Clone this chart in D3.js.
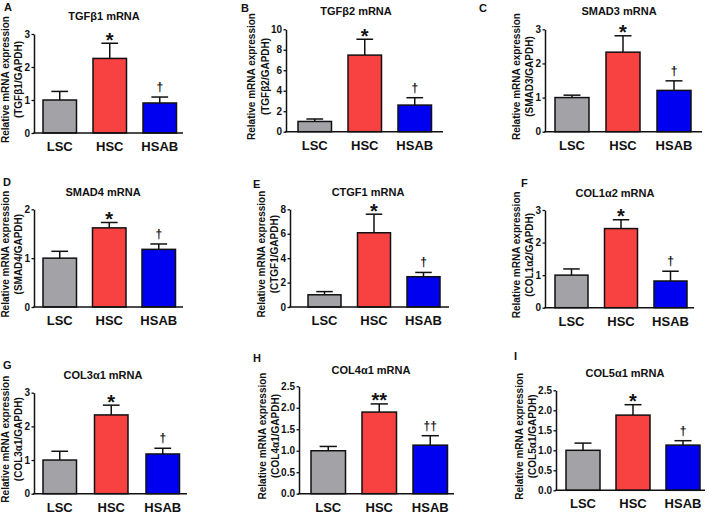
<!DOCTYPE html>
<html><head><meta charset="utf-8">
<script src="https://cdn.jsdelivr.net/npm/d3@7"></script>
<style>
html,body{margin:0;padding:0;background:#fff;}
svg{display:block;font-family:"Liberation Sans",Arial,sans-serif;font-weight:bold;}
svg text{font-family:"Liberation Sans",Arial,sans-serif;font-weight:bold;fill:#111;}
</style></head>
<body>
<svg id="c" width="709" height="514"></svg>
<script>
// ---------- data ----------
const categories = ["LSC", "HSC", "HSAB"];
const panelLetters = ["A", "B", "C", "D", "E", "F", "G", "H", "I"];
const titles = ["TGFβ1 mRNA", "TGFβ2 mRNA", "SMAD3 mRNA", "SMAD4 mRNA", "CTGF1 mRNA",
  "COL1α2 mRNA", "COL3α1 mRNA", "COL4α1 mRNA", "COL5α1 mRNA"];
const yLabelLine1 = "Relative mRNA expression";
const yLabelLine2 = ["(TGFβ1/GAPDH)", "(TGFβ2/GAPDH)", "(SMAD3/GAPDH)", "(SMAD4/GAPDH)",
  "(CTGF1/GAPDH)", "(COL1α2/GAPDH)", "(COL3α1/GAPDH)", "(COL4α1/GAPDH)", "(COL5α1/GAPDH)"];
const yTickLabels = [
  ["0", "1", "2", "3"],
  ["0", "2", "4", "6", "8", "10"],
  ["0", "1", "2", "3"],
  ["0", "1", "2"],
  ["0", "2", "4", "6", "8"],
  ["0", "1", "2", "3"],
  ["0", "1", "2", "3"],
  ["0.0", "0.5", "1.0", "1.5", "2.0", "2.5"],
  ["0.0", "0.5", "1.0", "1.5", "2.0", "2.5"]
];
const means = [
  [1.00, 2.26, 0.91],
  [1.00, 7.48, 2.60],
  [1.00, 2.33, 1.21],
  [1.00, 1.62, 1.18],
  [1.00, 6.08, 2.48],
  [1.00, 2.43, 0.82],
  [1.00, 2.34, 1.18],
  [1.00, 1.90, 1.13],
  [1.00, 1.88, 1.13]
];
const sems = [
  [0.26, 0.46, 0.18],
  [0.24, 1.55, 0.72],
  [0.07, 0.48, 0.28],
  [0.14, 0.11, 0.11],
  [0.26, 1.52, 0.35],
  [0.19, 0.27, 0.30],
  [0.26, 0.29, 0.17],
  [0.10, 0.19, 0.22],
  [0.18, 0.26, 0.11]
];
const hscMarks = ["*", "*", "*", "*", "*", "*", "*", "**", "*"];
const hsabMarks = ["†", "†", "†", "†", "†", "†", "†", "††", "†"];
const barColors = ["#a3a3a7", "#f84242", "#0000f0"];

// ---------- layout (positions only) ----------
const layout = [
  {x:34,  top:34,    bottom:133,   end:183, bar0:43,  step:50,   bw:33.5, tx:104, ty:20,  lx:4,   ly:11},
  {x:286, top:29.3,  bottom:131.7, end:443, bar0:298, step:50,   bw:33.5, tx:356, ty:15,  lx:241, ly:12},
  {x:545, top:29.3,  bottom:131.7, end:702, bar0:555, step:51,   bw:34,   tx:619, ty:15,  lx:479, ly:12},
  {x:34,  top:209.3, bottom:307,   end:183, bar0:43,  step:49.5, bw:33.5, tx:103, ty:196, lx:3,   ly:186},
  {x:290, top:209.3, bottom:307,   end:449, bar0:308, step:49.5, bw:33,   tx:368, ty:196, lx:253, ly:188},
  {x:545, top:210,   bottom:307.7, end:694, bar0:555, step:49.5, bw:33,   tx:615, ty:197, lx:521, ly:187},
  {x:34,  top:392.7, bottom:493.7, end:187, bar0:43,  step:51.5, bw:33.5, tx:103, ty:379, lx:3,   ly:369},
  {x:299, top:386.3, bottom:493.7, end:454, bar0:311, step:51,   bw:34.5, tx:371, ty:374, lx:253, ly:362},
  {x:556, top:390.3, bottom:490.3, end:705, bar0:566, step:50,   bw:34,   tx:625, ty:377, lx:514, ly:360}
];

const svg = d3.select("#c");
const tickSize = 2.5, tickPad = 1.5;

layout.forEach((L, i) => {
  const g = svg.append("g");
  const ticks = yTickLabels[i].map(Number);
  const yMax = ticks[ticks.length - 1];
  const y = d3.scaleLinear().domain([0, yMax]).range([L.bottom, L.top]);
  const pad = 1 - L.bw / L.step;
  const x = d3.scaleBand().domain(categories)
    .range([L.bar0 - (L.step - L.bw) / 2, L.bar0 - (L.step - L.bw) / 2 + 3 * L.step])
    .paddingInner(pad).paddingOuter(pad / 2);

  // bars
  g.selectAll("rect").data(categories).join("rect")
    .attr("x", d => x(d)).attr("width", x.bandwidth())
    .attr("y", (d, j) => y(means[i][j]))
    .attr("height", (d, j) => L.bottom - y(means[i][j]))
    .attr("fill", (d, j) => barColors[j])
    .attr("stroke", "#111").attr("stroke-width", 1.5);

  // error bars (upper only)
  categories.forEach((c, j) => {
    const cx = x(c) + x.bandwidth() / 2;
    const yt = y(means[i][j] + sems[i][j]);
    g.append("line").attr("x1", cx).attr("x2", cx)
      .attr("y1", y(means[i][j])).attr("y2", yt)
      .attr("stroke", "#111").attr("stroke-width", 1.5);
    g.append("line").attr("x1", cx - x.bandwidth() / 4).attr("x2", cx + x.bandwidth() / 4)
      .attr("y1", yt).attr("y2", yt)
      .attr("stroke", "#111").attr("stroke-width", 1.5);
  });

  // significance marks
  const cH = x("HSC") + x.bandwidth() / 2;
  g.append("text").attr("x", cH).attr("y", y(means[i][1] + sems[i][1]) + 3.5)
    .attr("text-anchor", "middle").style("font-size", "20px").text(hscMarks[i]);
  const cB = x("HSAB") + x.bandwidth() / 2;
  g.append("text").attr("x", cB).attr("y", y(means[i][2] + sems[i][2]) - 6)
    .attr("text-anchor", "middle").style("font-size", "12px").text(hsabMarks[i]);

  // y axis
  const yAxis = d3.axisLeft(y).tickValues(ticks)
    .tickFormat((d, k) => yTickLabels[i][k]).tickSize(tickSize).tickSizeOuter(0).tickPadding(tickPad);
  const ya = g.append("g").attr("transform", `translate(${L.x},0)`).call(yAxis);
  ya.select(".domain").attr("stroke", "#111").attr("stroke-width", 1.5);
  ya.selectAll(".tick line").attr("stroke", "#111").attr("stroke-width", 1.3);
  ya.selectAll(".tick text").style("font-size", "10px");
  let tw = 0;
  ya.selectAll(".tick text").each(function () { tw = Math.max(tw, this.getComputedTextLength()); });

  // x axis line
  g.append("line").attr("x1", L.x - 0.75).attr("x2", L.end)
    .attr("y1", L.bottom).attr("y2", L.bottom)
    .attr("stroke", "#111").attr("stroke-width", 1.5);

  // category labels
  g.selectAll("text.cat").data(categories).join("text").attr("class", "cat")
    .attr("x", d => x(d) + x.bandwidth() / 2).attr("y", L.bottom + 18)
    .attr("text-anchor", "middle").style("font-size", "13px").text(d => d);

  // title
  g.append("text").attr("x", L.tx).attr("y", L.ty).attr("text-anchor", "middle")
    .style("font-size", "11px").text(titles[i]);

  // panel letter
  g.append("text").attr("x", L.lx).attr("y", L.ly)
    .style("font-size", "11px").text(panelLetters[i]);

  // y labels (rotated; baseline positions relative to the tick labels)
  const cy = (L.top + L.bottom) / 2 - 4;
  const b2 = L.x - tickSize - tickPad - tw - 2;
  const b1 = b2 - 13.5;
  g.append("text").attr("transform", `translate(${b1},${cy}) rotate(-90)`)
    .attr("text-anchor", "middle").style("font-size", "10px").text(yLabelLine1);
  g.append("text").attr("transform", `translate(${b2},${cy}) rotate(-90)`)
    .attr("text-anchor", "middle").style("font-size", "10px").text(yLabelLine2[i]);
});
</script>
</body></html>
